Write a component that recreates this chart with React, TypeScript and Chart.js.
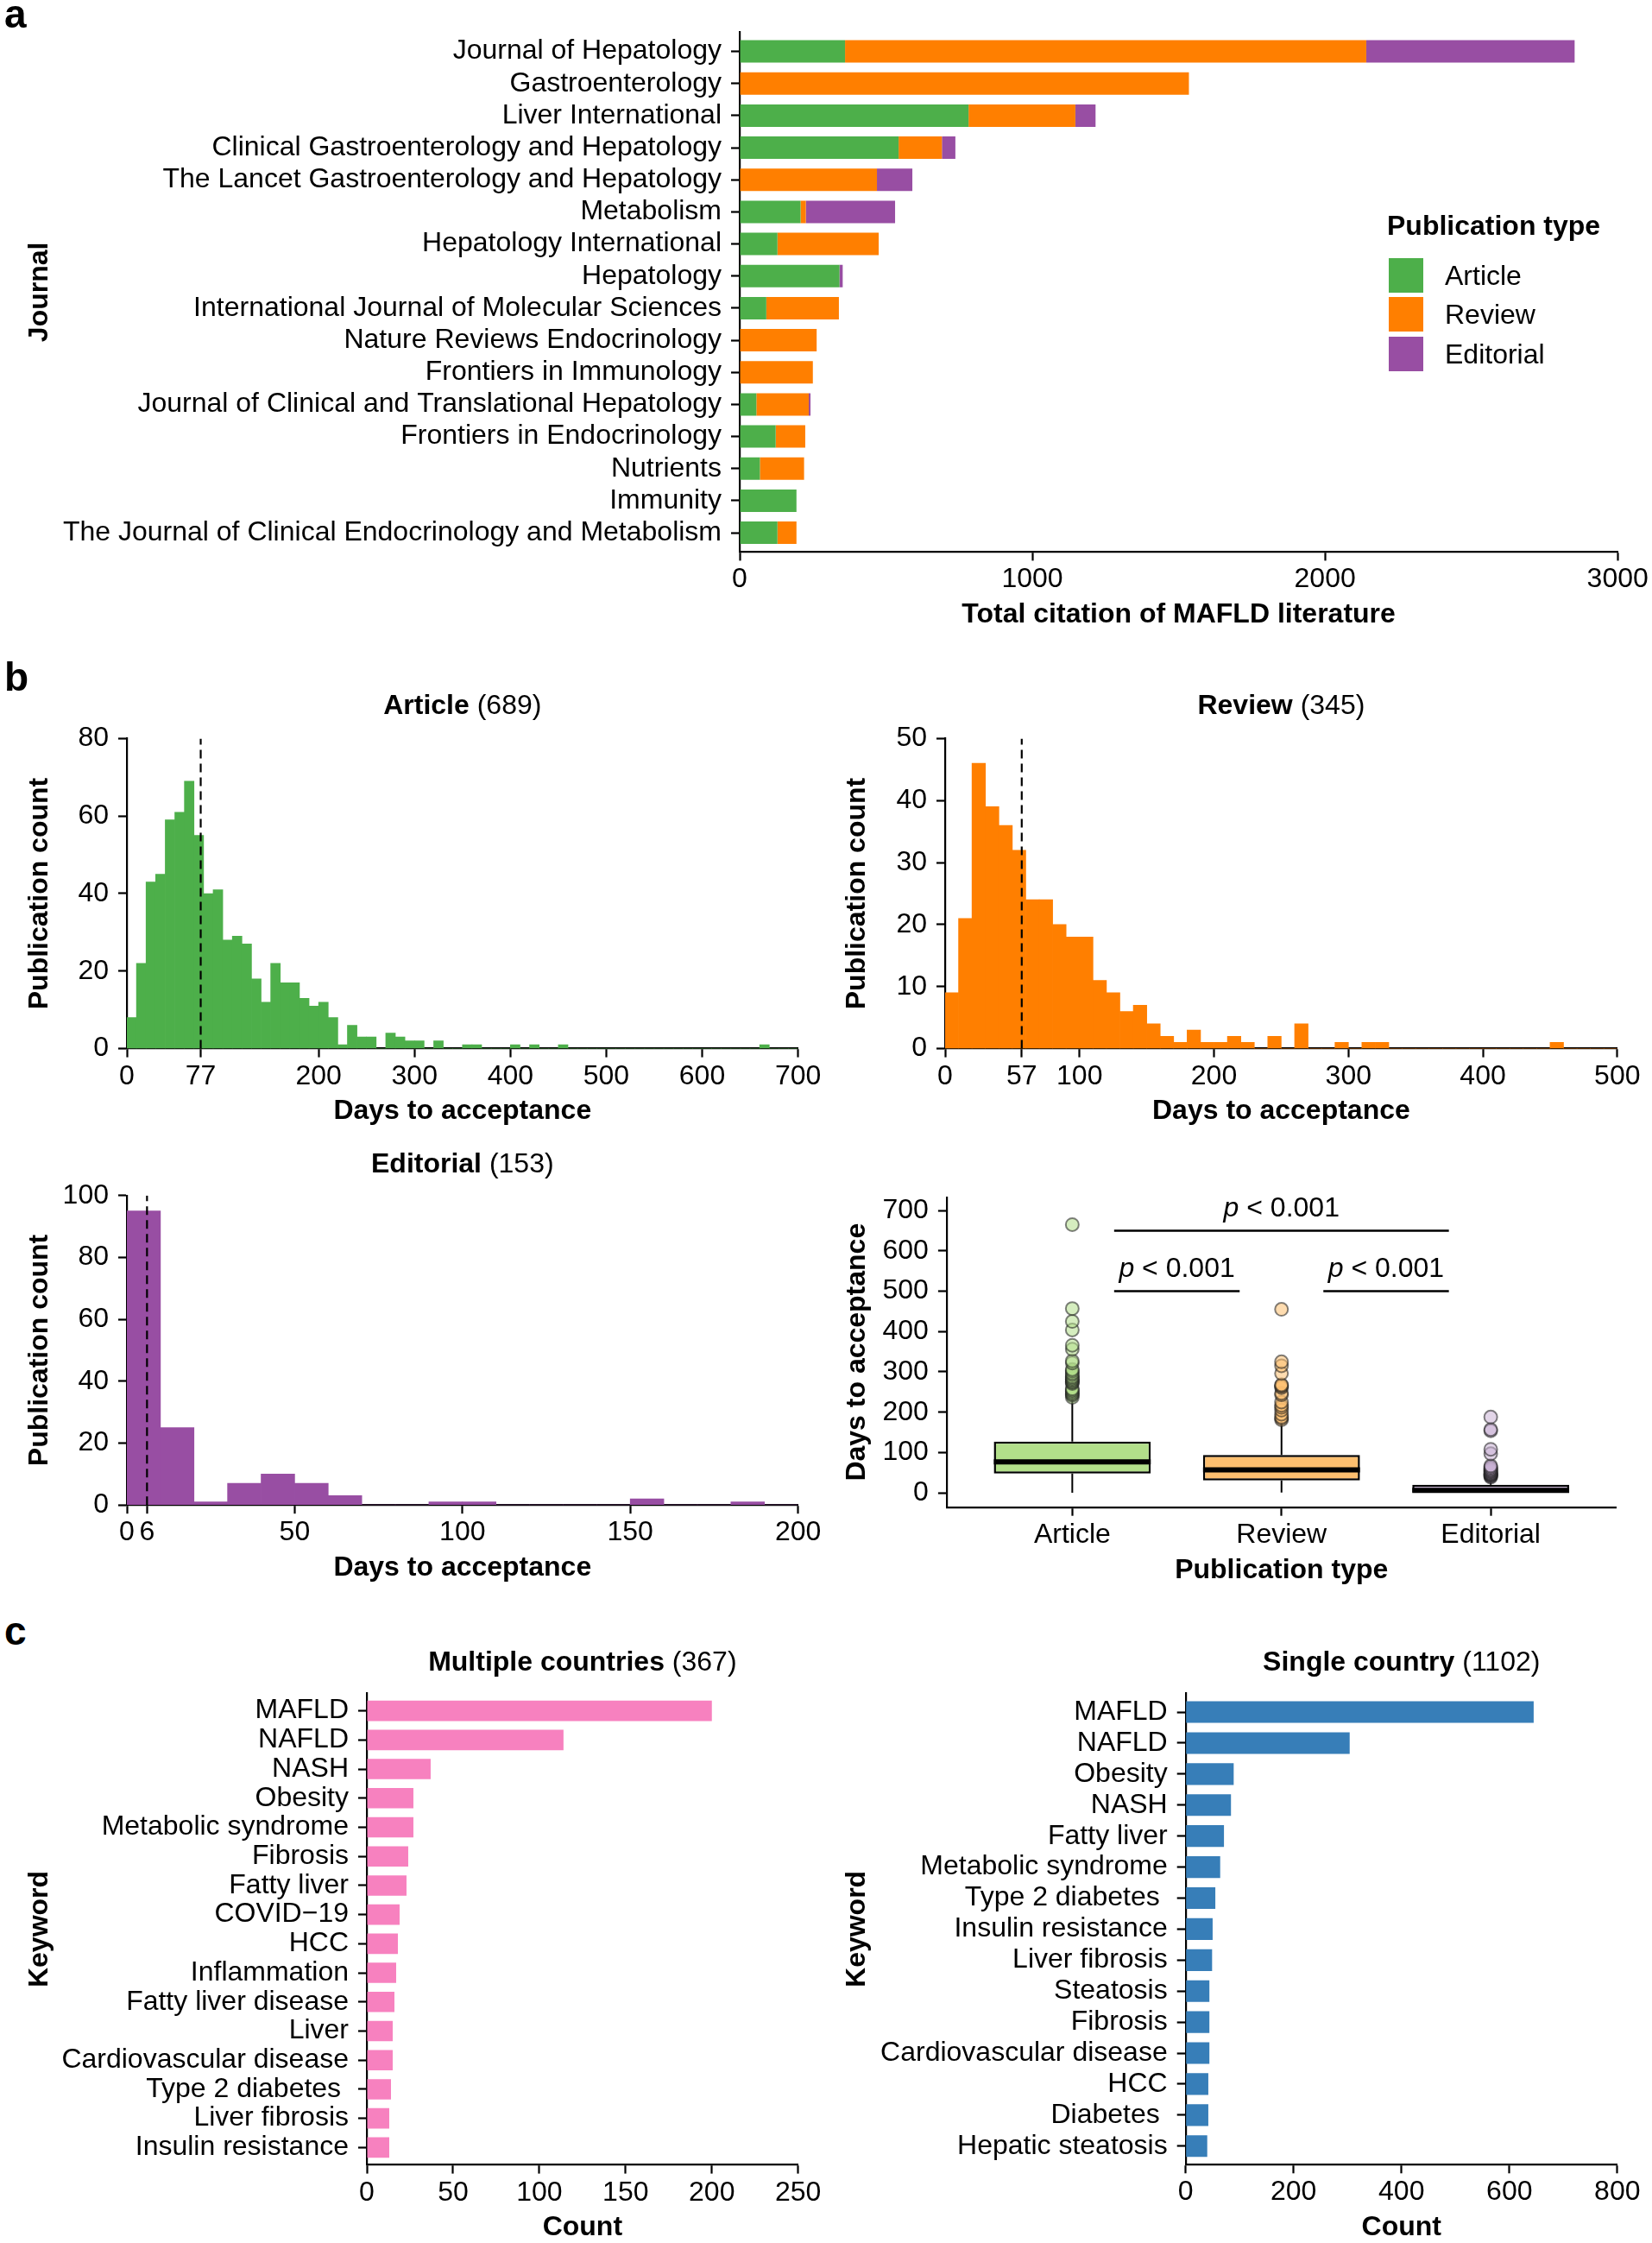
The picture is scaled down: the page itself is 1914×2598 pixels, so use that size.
import React, { useEffect, useRef } from 'react';
import { Chart, registerables } from 'chart.js';

Chart.register(...registerables);

const FONT = "'Liberation Sans', Arial, Helvetica, sans-serif";
Chart.defaults.font.family = FONT;
Chart.defaults.font.size = 32;
Chart.defaults.color = '#000';

// ---------------- Panel a : citations by journal ----------------
const journals = [
  'Journal of Hepatology',
  'Gastroenterology',
  'Liver International',
  'Clinical Gastroenterology and Hepatology',
  'The Lancet Gastroenterology and Hepatology',
  'Metabolism',
  'Hepatology International',
  'Hepatology',
  'International Journal of Molecular Sciences',
  'Nature Reviews Endocrinology',
  'Frontiers in Immunology',
  'Journal of Clinical and Translational Hepatology',
  'Frontiers in Endocrinology',
  'Nutrients',
  'Immunity',
  'The Journal of Clinical Endocrinology and Metabolism',
];
const citeArticle = [360, 0, 782, 543, 0, 208, 129, 341, 91, 0, 0, 57, 123, 69, 194, 129];
const citeReview = [1781, 1535, 365, 148, 469, 18, 346, 0, 248, 263, 250, 179, 101, 151, 0, 65];
const citeEditorial = [712, 0, 69, 46, 121, 305, 0, 11, 0, 0, 0, 6, 0, 0, 0, 0];
const citationTicks = [0, 1000, 2000, 3000];
const pubTypes = ['Article', 'Review', 'Editorial'];

// ---------------- Panel b : histograms (10-day bins from 0) ----------------
const BIN_WIDTH = 10;
const articleCounts = [
  8, 22, 43, 45, 59, 61, 69, 55, 40, 41,
  28, 29, 27, 18, 12, 22, 17, 17, 13, 11,
  12, 8, 1, 6, 3, 3, 0, 4, 3, 2,
  2, 0, 2, 0, 0, 1, 1, 0, 0, 0,
  1, 0, 1, 0, 0, 1, 0, 0, 0, 0,
  0, 0, 0, 0, 0, 0, 0, 0, 0, 0,
  0, 0, 0, 0, 0, 0, 1, 0, 0, 0,
];
const reviewCounts = [
  9, 21, 46, 39, 36, 32, 24, 24, 20, 18,
  18, 11, 9, 6, 7, 4, 2, 1, 3, 1,
  1, 2, 1, 0, 2, 0, 4, 0, 0, 1,
  0, 1, 1, 0, 0, 0, 0, 0, 0, 0,
  0, 0, 0, 0, 0, 1, 0, 0, 0, 0,
];
const editorialCounts = [95, 25, 1, 7, 10, 7, 3, 0, 0, 1, 1, 0, 0, 0, 0, 2, 0, 0, 1, 0];
const articleMedian = 77;
const reviewMedian = 57;
const editorialMedian = 6;
const articleDayTicks = [0, 77, 200, 300, 400, 500, 600, 700];
const reviewDayTicks = [0, 57, 100, 200, 300, 400, 500];
const editorialDayTicks = [0, 6, 50, 100, 150, 200];
const articleCountTicks = [0, 20, 40, 60, 80];
const reviewCountTicks = [0, 10, 20, 30, 40, 50];
const editorialCountTicks = [0, 20, 40, 60, 80, 100];

// ---------------- Panel b : boxplot ----------------
const boxMin = [0, 1, 0];
const boxQ1 = [48, 31, 1];
const boxMedian = [77, 57, 6];
const boxQ3 = [127, 94, 20];
const boxMax = [236, 174, 37];
const articleOutliers = [237, 242, 245, 248, 252, 255, 258, 271, 274, 276, 279, 282, 285, 288, 293, 297, 302, 306, 322, 327, 356, 366, 404, 425, 457, 665];
const reviewOutliers = [181, 185, 188, 195, 205, 212, 217, 225, 243, 247, 261, 264, 266, 268, 296, 315, 325, 455];
const editorialOutliers = [39, 41, 43, 44, 46, 47, 48, 50, 52, 54, 56, 58, 61, 64, 67, 97, 108, 154, 157, 188];
const boxDayTicks = [0, 100, 200, 300, 400, 500, 600, 700];
const bracketFrom = [0, 1, 0];
const bracketTo = [1, 2, 2];
const bracketY = [500, 500, 650];
const bracketText = ['< 0.001', '< 0.001', '< 0.001'];

// ---------------- Panel c : keywords ----------------
const multiKeywords = [
  'MAFLD', 'NAFLD', 'NASH', 'Obesity', 'Metabolic syndrome', 'Fibrosis', 'Fatty liver',
  'COVID\u221219', 'HCC', 'Inflammation', 'Fatty liver disease', 'Liver',
  'Cardiovascular disease', 'Type 2 diabetes ', 'Liver fibrosis', 'Insulin resistance',
];
const multiCounts = [200, 114, 37, 27, 27, 24, 23, 19, 18, 17, 16, 15, 15, 14, 13, 13];
const multiTicks = [0, 50, 100, 150, 200, 250];
const singleKeywords = [
  'MAFLD', 'NAFLD', 'Obesity', 'NASH', 'Fatty liver', 'Metabolic syndrome', 'Type 2 diabetes ',
  'Insulin resistance', 'Liver fibrosis', 'Steatosis', 'Fibrosis', 'Cardiovascular disease',
  'HCC', 'Diabetes ', 'Hepatic steatosis',
];
const singleCounts = [645, 304, 89, 84, 71, 64, 55, 50, 49, 44, 44, 44, 42, 42, 40];
const singleTicks = [0, 200, 400, 600, 800];

// ---------------- colours ----------------
const GREEN = '#4DAF4A';
const ORANGE = '#FF7F00';
const PURPLE = '#984EA3';
const PINK = '#F781BF';
const BLUE = '#377EB8';
const BOX_FILL = ['#B2DF8A', '#FDBF6F', '#CAB2D6'];
const OUT_FILL = ['rgba(178,223,138,0.55)', 'rgba(253,191,111,0.55)', 'rgba(202,178,214,0.55)'];

// ---------------- layout helpers ----------------
type Rect = { x: number; y: number; w: number; h: number };
type Area = { l: number; t: number; r: number; b: number };
const HALF_LINE = 32 * 1.2 / 2;
const AX_W = 2.2;

function frame(c: Rect, a: Area, yTitleX: number) {
  return {
    padding: { left: 0, top: a.t - c.y, right: c.x + c.w - a.r, bottom: 0 },
    yWidth: a.l - c.x,
    xHeight: c.y + c.h - a.b,
    yTitlePad: yTitleX - c.x - HALF_LINE,
    xTitlePad: c.y + c.h - (a.b + 73) - HALF_LINE,
  };
}
type Frame = ReturnType<typeof frame>;

const gridOpts = () => ({
  display: true, drawOnChartArea: false, drawTicks: true, offset: false,
  tickLength: 10, tickWidth: AX_W, tickColor: '#000', color: '#000',
});
const borderOpts = () => ({ display: true, color: '#000', width: AX_W });

function xAxis(f: Frame, min: number, max: number, ticks: number[], label: (v: number) => string, title: string) {
  return {
    type: 'linear', position: 'bottom', min, max, bounds: 'data', offset: false,
    afterBuildTicks: (s: any) => { s.ticks = ticks.map((v) => ({ value: v })); },
    afterFit: (s: any) => { s.height = f.xHeight; },
    grid: gridOpts(), border: borderOpts(),
    ticks: { color: '#000', font: { size: 32 }, padding: 3, autoSkip: false, maxRotation: 0, minRotation: 0, callback: (v: any) => label(Number(v)) },
    title: { display: true, text: title, color: '#000', font: { size: 32, weight: 'bold' }, padding: { top: 0, bottom: f.xTitlePad } },
  };
}
function yAxis(f: Frame, min: number, max: number, ticks: number[], label: (v: number) => string, title: string, reverse = false) {
  return {
    type: 'linear', position: 'left', min, max, reverse, bounds: 'data', offset: false,
    afterBuildTicks: (s: any) => { s.ticks = ticks.map((v) => ({ value: v })); },
    afterFit: (s: any) => { s.width = f.yWidth; },
    grid: gridOpts(), border: borderOpts(),
    ticks: { color: '#000', font: { size: 32 }, padding: 11, autoSkip: false, callback: (v: any) => label(Number(v)) },
    title: { display: true, text: title, color: '#000', font: { size: 32, weight: 'bold' }, padding: { top: f.yTitlePad, bottom: 0 } },
  };
}
function baseOptions(f: Frame) {
  return {
    responsive: false, maintainAspectRatio: false, animation: false, devicePixelRatio: 1,
    events: [],
    layout: { padding: f.padding, autoPadding: false },
    plugins: { legend: { display: false }, tooltip: { enabled: false }, title: { display: false } },
  };
}

// ---------------- rectangles (page coords) ----------------
const R_A: Rect = { x: 0, y: 0, w: 1914, h: 760 };
const A_A: Area = { l: 857, t: 37.3, r: 1874.2, b: 639.4 };
const R_ART: Rect = { x: 0, y: 810, w: 957, h: 510 };
const A_ART: Area = { l: 147, t: 855.4, r: 924.6, b: 1214.6 };
const R_REV: Rect = { x: 957, y: 810, w: 957, h: 510 };
const A_REV: Area = { l: 1095, t: 855.4, r: 1873.8, b: 1214.6 };
const R_EDI: Rect = { x: 0, y: 1340, w: 957, h: 520 };
const A_EDI: Area = { l: 147, t: 1384.7, r: 924.6, b: 1743.2 };
const R_BOX: Rect = { x: 957, y: 1340, w: 957, h: 520 };
const A_BOX: Area = { l: 1096.9, t: 1386.7, r: 1872.6, b: 1745.7 };
const R_MUL: Rect = { x: 0, y: 1920, w: 957, h: 678 };
const A_MUL: Area = { l: 425, t: 1961.4, r: 924.7, b: 2507.6 };
const R_SGL: Rect = { x: 957, y: 1920, w: 957, h: 678 };
const A_SGL: Area = { l: 1373.7, t: 1961.5, r: 1873.8, b: 2507.3 };
const Y_TITLE_LEFT = 46;
const Y_TITLE_RIGHT = 993.5;

// ---------------- chart configs ----------------
function hbarConfig(rect: Rect, area: Area, yTitleX: number, labels: string[],
  series: { label: string; data: number[]; color: string }[], xMax: number, xTicks: number[], xTitle: string, yTitle: string) {
  const f = frame(rect, area, yTitleX);
  return {
    type: 'bar',
    data: {
      datasets: series.map((s) => ({
        label: s.label,
        data: s.data.map((v, i) => ({ x: v, y: i })),
        backgroundColor: s.color,
        borderWidth: 0,
        barPercentage: 0.7,
        categoryPercentage: 1,
      })),
    },
    options: {
      ...baseOptions(f),
      indexAxis: 'y',
      scales: {
        x: { ...xAxis(f, 0, xMax, xTicks, (v) => String(v), xTitle), stacked: true },
        y: { ...yAxis(f, -0.6, labels.length - 0.4, labels.map((_, i) => i), (v) => labels[v] ?? '', yTitle, true), stacked: true },
      },
    },
  };
}

function histConfig(rect: Rect, area: Area, yTitleX: number, counts: number[], color: string, median: number,
  xTicks: number[], yTicks: number[]) {
  const f = frame(rect, area, yTitleX);
  const xMax = counts.length * BIN_WIDTH;
  const yMax = yTicks[yTicks.length - 1];
  return {
    type: 'bar',
    data: {
      datasets: [
        {
          type: 'line', xAxisID: 'xh', yAxisID: 'y', order: 0,
          data: [{ x: median, y: 0 }, { x: median, y: yMax }],
          borderColor: '#000', borderWidth: 2.2, borderDash: [10, 6], pointRadius: 0, fill: false,
        },
        {
          type: 'bar', xAxisID: 'xh', yAxisID: 'y', order: 1,
          data: counts.map((c, i) => ({ x: i * BIN_WIDTH + BIN_WIDTH / 2, y: c })),
          backgroundColor: color, borderWidth: 0, barPercentage: 1, categoryPercentage: 1,
        },
      ],
    },
    options: {
      ...baseOptions(f),
      scales: {
        xh: { type: 'linear', axis: 'x', position: 'bottom', display: false, min: 0, max: xMax, bounds: 'data', offset: false, grid: { offset: false } },
        x: xAxis(f, 0, xMax, xTicks, (v) => String(v), 'Days to acceptance'),
        y: yAxis(f, 0, yMax, yTicks, (v) => String(v), 'Publication count'),
      },
    },
  };
}

const pvalPlugin = {
  id: 'pvals',
  afterDatasetsDraw(chart: any) {
    const { ctx, scales } = chart;
    const x = scales.x;
    const y = scales.y;
    ctx.save();
    ctx.fillStyle = '#000';
    ctx.textBaseline = 'middle';
    ctx.textAlign = 'left';
    bracketFrom.forEach((from, k) => {
      const cx = x.getPixelForValue((from + bracketTo[k]) / 2);
      const cy = y.getPixelForValue(bracketY[k]) - 25;
      const italic = `italic 32px ${FONT}`;
      const normal = `32px ${FONT}`;
      ctx.font = italic;
      const pW = ctx.measureText('p').width;
      ctx.font = normal;
      const rest = ' ' + bracketText[k];
      const rW = ctx.measureText(rest).width;
      const start = cx - (pW + rW) / 2;
      ctx.font = italic;
      ctx.fillText('p', start, cy);
      ctx.font = normal;
      ctx.fillText(rest, start + pW, cy);
    });
    ctx.restore();
  },
};

function boxConfig() {
  const f = frame(R_BOX, A_BOX, Y_TITLE_RIGHT);
  const half = 0.375;
  const whiskers: any[] = [];
  const medians: any[] = [];
  const brackets: any[] = [];
  pubTypes.forEach((_, i) => {
    whiskers.push({ x: i, y: boxMin[i] }, { x: i, y: boxQ1[i] }, { x: i, y: null },
      { x: i, y: boxQ3[i] }, { x: i, y: boxMax[i] }, { x: i, y: null });
    medians.push({ x: i - half, y: boxMedian[i] }, { x: i + half, y: boxMedian[i] }, { x: i, y: null });
  });
  bracketFrom.forEach((a, k) => {
    brackets.push({ x: a + 0.2, y: bracketY[k] }, { x: bracketTo[k] - 0.2, y: bracketY[k] }, { x: a, y: null });
  });
  const outliers = [articleOutliers, reviewOutliers, editorialOutliers];
  return {
    type: 'bar',
    data: {
      datasets: [
        ...outliers.map((vals, i) => ({
          type: 'scatter', order: 0,
          data: vals.map((v) => ({ x: i, y: v })),
          pointRadius: 7.5, pointBackgroundColor: OUT_FILL[i], pointBorderColor: 'rgba(30,30,30,0.55)', pointBorderWidth: 2,
          showLine: false,
        })),
        { type: 'line', order: 0, data: brackets, borderColor: '#000', borderWidth: 2.6, pointRadius: 0, spanGaps: false, fill: false },
        { type: 'line', order: 1, data: medians, borderColor: '#000', borderWidth: 6, pointRadius: 0, spanGaps: false, fill: false, borderCapStyle: 'butt' },
        {
          type: 'bar', order: 2,
          data: pubTypes.map((_, i) => ({ x: i, y: [boxQ1[i], boxQ3[i]] })),
          backgroundColor: BOX_FILL, borderColor: '#000', borderWidth: 2.5, borderSkipped: false,
          barPercentage: 0.75, categoryPercentage: 1,
        },
        { type: 'line', order: 3, data: whiskers, borderColor: '#000', borderWidth: 2, pointRadius: 0, spanGaps: false, fill: false },
      ],
    },
    options: {
      ...baseOptions(f),
      scales: {
        x: xAxis(f, -0.6, pubTypes.length - 0.4, pubTypes.map((_, i) => i), (v) => pubTypes[v] ?? '', 'Publication type'),
        y: yAxis(f, -35.5, 733, boxDayTicks, (v) => String(v), 'Days to acceptance'),
      },
    },
    plugins: [pvalPlugin],
  };
}

const makeA = () => hbarConfig(R_A, A_A, Y_TITLE_LEFT, journals, [
  { label: 'Article', data: citeArticle, color: GREEN },
  { label: 'Review', data: citeReview, color: ORANGE },
  { label: 'Editorial', data: citeEditorial, color: PURPLE },
], 3000, citationTicks, 'Total citation of MAFLD literature', 'Journal');
const makeArt = () => histConfig(R_ART, A_ART, Y_TITLE_LEFT, articleCounts, GREEN, articleMedian, articleDayTicks, articleCountTicks);
const makeRev = () => histConfig(R_REV, A_REV, Y_TITLE_RIGHT, reviewCounts, ORANGE, reviewMedian, reviewDayTicks, reviewCountTicks);
const makeEdi = () => histConfig(R_EDI, A_EDI, Y_TITLE_LEFT, editorialCounts, PURPLE, editorialMedian, editorialDayTicks, editorialCountTicks);
const makeMul = () => hbarConfig(R_MUL, A_MUL, Y_TITLE_LEFT, multiKeywords, [
  { label: 'Multiple countries', data: multiCounts, color: PINK },
], 250, multiTicks, 'Count', 'Keyword');
const makeSgl = () => hbarConfig(R_SGL, A_SGL, Y_TITLE_RIGHT, singleKeywords, [
  { label: 'Single country', data: singleCounts, color: BLUE },
], 800, singleTicks, 'Count', 'Keyword');

function ChartCanvas({ rect, make }: { rect: Rect; make: () => any }) {
  const ref = useRef<HTMLCanvasElement>(null);
  useEffect(() => {
    if (!ref.current) return;
    const chart = new Chart(ref.current, make());
    return () => chart.destroy();
  }, []);
  return (
    <canvas
      ref={ref}
      width={rect.w}
      height={rect.h}
      style={{ position: 'absolute', left: rect.x, top: rect.y, width: rect.w, height: rect.h }}
    />
  );
}

function Label({ x, cy, center, size = 32, children }: { x: number; cy: number; center?: boolean; size?: number; children: React.ReactNode }) {
  const lh = Math.round(size * 1.2);
  return (
    <div style={{
      position: 'absolute', left: x, top: cy - lh / 2, lineHeight: lh + 'px', fontSize: size,
      whiteSpace: 'pre', transform: center ? 'translateX(-50%)' : undefined,
    }}>{children}</div>
  );
}

function PanelTitle({ area, cy, bold, rest }: { area: Area; cy: number; bold: string; rest: string }) {
  return (
    <Label x={(area.l + area.r) / 2} cy={cy} center>
      <b>{bold}</b>{rest}
    </Label>
  );
}

const legendColors = [GREEN, ORANGE, PURPLE];

export default function App() {
  return (
    <div style={{
      position: 'absolute', left: 0, top: 0, width: 1914, height: 2598, background: '#fff',
      overflow: 'hidden', fontFamily: FONT, color: '#000',
    }}>
      <ChartCanvas rect={R_A} make={makeA} />
      <ChartCanvas rect={R_ART} make={makeArt} />
      <ChartCanvas rect={R_REV} make={makeRev} />
      <ChartCanvas rect={R_EDI} make={makeEdi} />
      <ChartCanvas rect={R_BOX} make={boxConfig} />
      <ChartCanvas rect={R_MUL} make={makeMul} />
      <ChartCanvas rect={R_SGL} make={makeSgl} />

      {/* panel letters */}
      <div style={{ position: 'absolute', left: 5, top: -7, fontSize: 46, lineHeight: '46px', fontWeight: 'bold' }}>a</div>
      <div style={{ position: 'absolute', left: 5, top: 761, fontSize: 46, lineHeight: '46px', fontWeight: 'bold' }}>b</div>
      <div style={{ position: 'absolute', left: 5, top: 1866, fontSize: 46, lineHeight: '46px', fontWeight: 'bold' }}>c</div>

      {/* legend of panel a */}
      <Label x={1607} cy={261}><b>Publication type</b></Label>
      {pubTypes.map((t, k) => (
        <React.Fragment key={t}>
          <div style={{ position: 'absolute', left: 1609, top: 299 + k * 45.3, width: 40, height: 40, background: legendColors[k] }} />
          <Label x={1674} cy={319 + k * 45.3}>{t}</Label>
        </React.Fragment>
      ))}

      {/* panel titles */}
      <PanelTitle area={A_ART} cy={815.8} bold="Article" rest=" (689)" />
      <PanelTitle area={A_REV} cy={815.8} bold="Review" rest=" (345)" />
      <PanelTitle area={A_EDI} cy={1346.5} bold="Editorial" rest=" (153)" />
      <PanelTitle area={A_MUL} cy={1923.5} bold="Multiple countries" rest=" (367)" />
      <PanelTitle area={A_SGL} cy={1923.5} bold="Single country" rest=" (1102)" />
    </div>
  );
}
